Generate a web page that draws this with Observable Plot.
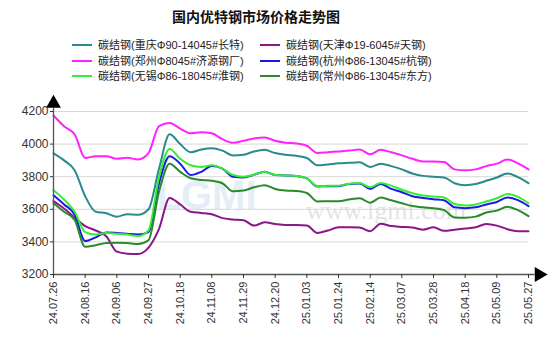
<!DOCTYPE html>
<html>
<head>
<meta charset="utf-8">
<script src="https://cdn.jsdelivr.net/npm/d3@7"></script>
<script src="https://cdn.jsdelivr.net/npm/@observablehq/plot@0.6"></script>
<style>
  html, body { margin: 0; padding: 0; background: #fff; }
  body { width: 554px; height: 354px; overflow: hidden; font-family: "Liberation Sans", Arial, "Noto Sans CJK SC", sans-serif; }
  #head { position: relative; height: 88px; }
  #title { position: absolute; left: 0; width: 512px; top: 6px; text-align: center; font-size: 14px; font-weight: bold; color: #111; font-family: "Noto Sans CJK SC", sans-serif; }
  .lg { position: absolute; font-size: 11px; color: #222; white-space: nowrap; line-height: 13px; font-family: "Liberation Sans", "Noto Sans CJK SC", sans-serif; }
  .lg i { display: inline-block; width: 20px; height: 2px; vertical-align: middle; margin-right: 6px; position: relative; top: -1px; }
</style>
</head>
<body>
<div id="head"><div id="title">国内优特钢市场价格走势图</div></div>
<div id="chart"></div>
<script>
const tickLabels = ["24.07.26","24.08.16","24.09.06","24.09.27","24.10.18","24.11.08","24.11.29","24.12.20","25.01.03","25.01.24","25.02.14","25.03.07","25.03.28","25.04.18","25.05.09","25.05.27"];

const seriesNames = [
  "碳结钢(重庆Φ90-14045#长特)",
  "碳结钢(天津Φ19-6045#天钢)",
  "碳结钢(郑州Φ8045#济源钢厂)",
  "碳结钢(杭州Φ86-13045#杭钢)",
  "碳结钢(无锡Φ86-18045#淮钢)",
  "碳结钢(常州Φ86-13045#东方)"
];
const seriesColors = ["#2a8a8c", "#8a168a", "#ff22ff", "#1a1ae6", "#33ee33", "#2a8a2a"];

// weekly samples, 46 points (ticks every 3 samples)
const chongqing = [3943,3900,3840,3680,3585,3576,3555,3570,3566,3600,3850,4060,4000,3950,3967,3975,3960,3930,3935,3955,3965,3945,3935,3928,3915,3870,3875,3882,3885,3888,3860,3880,3865,3845,3820,3805,3800,3795,3760,3748,3755,3775,3795,3820,3797,3760];
const tianjin = [3650,3605,3550,3497,3470,3435,3340,3328,3326,3365,3480,3670,3630,3585,3578,3570,3546,3538,3533,3500,3520,3510,3503,3503,3500,3455,3470,3490,3490,3488,3466,3512,3497,3492,3488,3475,3490,3468,3475,3482,3490,3510,3500,3478,3466,3466];
const zhengzhou = [4176,4110,4060,3915,3925,3925,3910,3916,3906,3945,4110,4130,4095,4066,4072,4066,4030,4008,4020,4035,4041,4020,4008,4004,3990,3945,3950,3955,3960,3967,3937,3965,3950,3931,3910,3894,3894,3890,3845,3839,3845,3865,3880,3905,3882,3845];
const hangzhou = [3686,3630,3568,3405,3428,3458,3455,3450,3445,3460,3760,3925,3880,3810,3830,3865,3850,3800,3795,3812,3830,3810,3808,3805,3790,3740,3742,3742,3755,3758,3725,3755,3725,3705,3680,3670,3662,3655,3612,3607,3612,3630,3645,3672,3656,3619];
const wuxi = [3717,3660,3585,3460,3445,3454,3450,3445,3436,3470,3800,3970,3910,3870,3860,3870,3850,3810,3800,3812,3830,3810,3808,3805,3790,3742,3744,3745,3757,3762,3735,3762,3745,3720,3698,3684,3678,3672,3632,3624,3630,3648,3668,3694,3676,3637];
const changzhou = [3637,3585,3535,3370,3380,3393,3395,3393,3387,3410,3710,3880,3830,3790,3780,3775,3760,3710,3715,3735,3748,3725,3715,3712,3700,3648,3650,3650,3660,3668,3640,3672,3655,3637,3620,3612,3607,3595,3550,3548,3555,3580,3592,3615,3595,3558];

const allSeries = [chongqing, tianjin, zhengzhou, hangzhou, wuxi, changzhou];
const data = [];
allSeries.forEach((arr, s) => arr.forEach((v, i) => data.push({i, v, s: seriesNames[s]})));

// legend
const head = document.getElementById("head");
const legendPos = [[72,39],[260,39],[72,55],[260,55],[72,70],[260,70]];
seriesNames.forEach((n, k) => {
  const d = document.createElement("div");
  d.className = "lg";
  d.style.left = legendPos[k][0] + "px";
  d.style.top = legendPos[k][1] + "px";
  d.innerHTML = `<i style="background:${seriesColors[k]}"></i>${n}`;
  head.appendChild(d);
});

const yTicks = [3200,3400,3600,3800,4000,4200];
const xTicks = tickLabels.map((_, k) => k * 3);

const plot = Plot.plot({
  width: 554,
  height: 266,
  marginLeft: 53,
  marginRight: 26,
  marginTop: 23,
  marginBottom: 80,
  x: {domain: [0, 45]},
  y: {domain: [3200, 4200]},
  color: {domain: seriesNames, range: seriesColors},
  style: {fontFamily: "Liberation Sans, Arial, sans-serif", color: "#333", background: "#fff"},
  marks: [
    Plot.ruleY(yTicks.slice(1), {x1: 0, x2: 45, stroke: "#d8d8d8", strokeWidth: 1}),
    Plot.text(["LGMI"], {x: 14.5, y: 3680, text: d => d, fontSize: 40, fontWeight: "bold", fill: "#cfe0f0", fillOpacity: 0.55}),
    Plot.text(["www.lgmi.com"], {x: 31.5, y: 3590, text: d => d, fontSize: 26, fontFamily: "Liberation Serif, serif", fill: "#d8d8d8", fillOpacity: 0.7}),
    Plot.line(data, {x: "i", y: "v", z: "s", stroke: "s", strokeWidth: 2, curve: "monotone-x"}),
    Plot.ruleY([3200], {x1: 0, x2: 45.6, stroke: "#555", strokeWidth: 1.3}),
    Plot.ruleX([0], {y1: 3200, y2: 4220, stroke: "#555", strokeWidth: 1.3}),
    Plot.dot([0], {x: 0, y: 4250, symbol: "triangle", r: 5.5, fill: "#000", stroke: null}),
    Plot.dot([0], {x: 46.0, y: 3200, symbol: "triangle", r: 5.5, fill: "#000", stroke: null, rotate: 90}),
    Plot.axisY({ticks: yTicks, tickFormat: d3.format("d"), tickSize: 3, tickPadding: 2, fontSize: 12, label: null}),
    Plot.axisX({ticks: xTicks, tickFormat: k => tickLabels[k / 3], tickSize: 4, tickPadding: 3, tickRotate: -90, fontSize: 11, label: null})
  ]
});
document.getElementById("chart").appendChild(plot);
</script>
</body>
</html>
